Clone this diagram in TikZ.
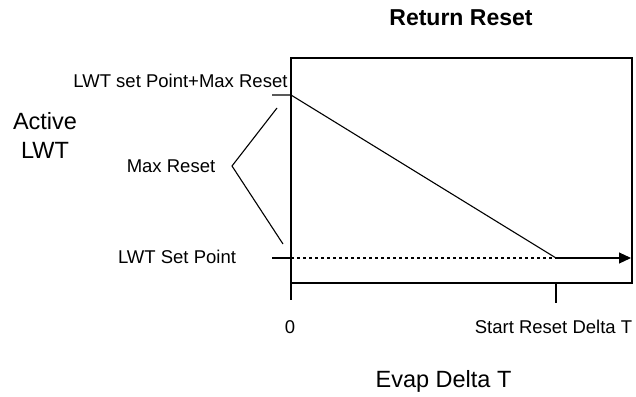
\documentclass[tikz,border=0pt]{standalone}
\usepackage{fontspec}
\setmainfont{Liberation Sans}
\usetikzlibrary{arrows.meta}
\begin{document}
\begin{tikzpicture}[x=1pt,y=-1pt,line width=1.1pt,
  lbl/.style={inner sep=0pt,font=\fontsize{18.5}{22}\selectfont},
  big/.style={inner sep=0pt,align=center,font=\fontsize{23.5}{29}\selectfont},
  ttl/.style={inner sep=0pt,font=\fontsize{23}{28}\selectfont\bfseries},
  thin/.style={line width=1.1pt},
  dots/.style={dash pattern=on 3pt off 3pt,line width=1.3pt}]
\useasboundingbox (0,0) rectangle (636,396);
% frame
\coordinate (bTL) at (291,58);
\coordinate (bBR) at (632,283);
\draw[thin] (bTL) rectangle (bBR);
% key points
\coordinate (top) at (291,95);
\coordinate (knee) at (556,258);
\coordinate (sp) at (291,258);
\coordinate (aend) at (631,258);
\coordinate (ttop) at (272,95);
\coordinate (tsp) at (272,258);
\coordinate (x0a) at (291,283);
\coordinate (x0b) at (291,300);
\coordinate (x1a) at (556,283);
\coordinate (x1b) at (556,303);
\coordinate (ba) at (277,108);
\coordinate (bv) at (232,166);
\coordinate (bb) at (283,244);
% curve
\draw (ttop) -- (top) -- (knee);
\draw[dots] (sp) -- (knee);
\draw (tsp) -- (sp);
\draw[-{Triangle[length=12pt,width=11pt]}] (knee) -- (aend);
% ticks
\draw (x0a) -- (x0b);
\draw (x1a) -- (x1b);
% brace
\draw (ba) -- (bv) -- (bb);
% labels
\node[ttl,anchor=base] (title) at (461,26) {Return Reset};
\node[lbl,anchor=base east] (lmax) at (288,87) {LWT set Point+Max Reset};
\node[big,anchor=base] (act) at (45,158) {Active\\LWT};
\node[lbl,anchor=base] (mr) at (171,172) {Max Reset};
\node[lbl,anchor=base] (lsp) at (177,263) {LWT Set Point};
\node[lbl,anchor=base] (zero) at (290,333) {0};
\node[lbl,anchor=base] (srd) at (553.5,333) {Start Reset Delta T};
\node[big,anchor=base] (evap) at (443.5,387) {Evap Delta T};
\end{tikzpicture}
\end{document}
